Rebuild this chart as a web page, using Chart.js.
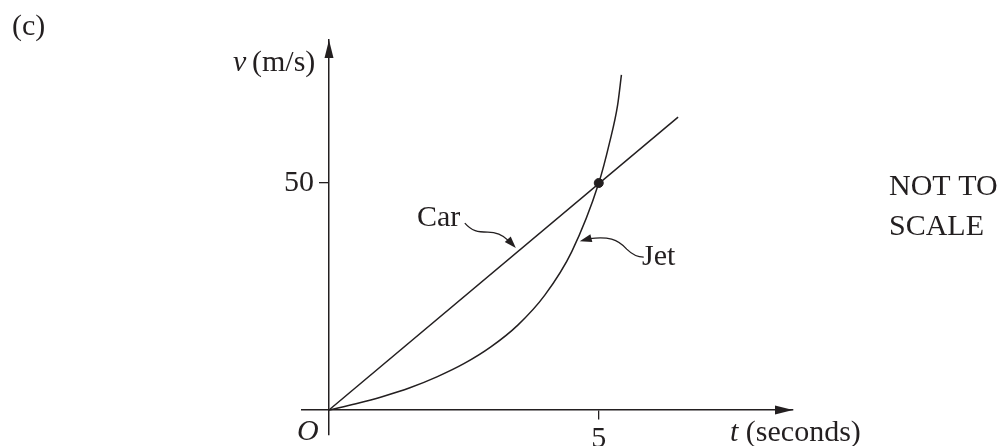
<!DOCTYPE html>
<html>
<head>
<meta charset="utf-8">
<script src="https://cdn.jsdelivr.net/npm/chart.js@4"></script>
<style>
  html, body { margin: 0; padding: 0; background: #fff; }
  #chart { display: block; }
</style>
</head>
<body>
<canvas id="chart" width="1003" height="446"></canvas>
<script>
// values (t in seconds, v in m/s)
const carT = [0, 6.47];
const carV = [0, 64.5];
const jetT = [0, 0.5, 1, 1.5, 2, 2.5, 3, 3.5, 4, 4.5, 5, 5.2, 5.35, 5.42];
const jetV = [0, 1.4, 3.0, 4.9, 7.3, 10.2, 13.9, 18.7, 25.3, 34.9, 50, 58.9, 67.2, 73.8];
const meetT = [5];
const meetV = [50];
const xTicks = [5];
const yTicks = [50];

const ink = '#231f20';
const serif = '"Liberation Serif", "DejaVu Serif", serif';

const toPoints = (xs, ys) => xs.map((x, i) => ({ x: x, y: ys[i] }));

function arrowHead(ctx, tx, ty, dx, dy, len, half) {
  const n = Math.hypot(dx, dy);
  const ux = dx / n, uy = dy / n;
  const bx = tx - ux * len, by = ty - uy * len;
  ctx.beginPath();
  ctx.moveTo(tx, ty);
  ctx.lineTo(bx - uy * half, by + ux * half);
  ctx.lineTo(bx + uy * half, by - ux * half);
  ctx.closePath();
  ctx.fill();
}

// keep the positioned axes from eating into the plot box
const noPad = (s) => { s.paddingLeft = 0; s.paddingRight = 0; s.paddingTop = 0; s.paddingBottom = 0; };

// axis arrows, leaders and the loose labels
const extras = {
  id: 'extras',
  afterDraw(chart) {
    const ctx = chart.ctx;
    const xs = chart.scales.x, ys = chart.scales.y;
    const ox = xs.getPixelForValue(0), oy = ys.getPixelForValue(0);
    const area = chart.chartArea;
    ctx.save();
    ctx.fillStyle = ink;
    ctx.strokeStyle = ink;
    ctx.lineWidth = 1.3;

    arrowHead(ctx, area.right, oy, 1, 0, 18, 4.5);
    arrowHead(ctx, ox, area.top, 0, -1, 18, 4.5);

    // Car leader
    let tx = xs.getPixelForValue(3.5) - 2, ty = ys.getPixelForValue(35) - 3;
    ctx.beginPath();
    ctx.moveTo(tx - 51, ty - 25);
    ctx.bezierCurveTo(tx - 44, ty - 17, tx - 38, ty - 16, tx - 28, ty - 16);
    ctx.bezierCurveTo(tx - 20, ty - 16, tx - 14, ty - 14, tx - 8, ty - 8);
    ctx.stroke();
    arrowHead(ctx, tx, ty, 1, 1.1, 12, 4);

    // Jet leader
    tx = xs.getPixelForValue(4.61) + 2; ty = ys.getPixelForValue(37.2);
    ctx.beginPath();
    ctx.moveTo(tx + 10, ty - 2.5);
    ctx.bezierCurveTo(tx + 28, ty - 5, tx + 38, ty - 2, tx + 47, ty + 8);
    ctx.bezierCurveTo(tx + 54, ty + 15, tx + 59, ty + 16, tx + 64, ty + 16);
    ctx.stroke();
    arrowHead(ctx, tx, ty, -1, 0.25, 12, 4);

    ctx.textBaseline = 'alphabetic';
    ctx.textAlign = 'left';
    ctx.font = '30px ' + serif;
    ctx.fillText('(c)', 12, 35);
    ctx.fillText('Car', 417, 226);
    ctx.fillText('Jet', 642, 265);
    ctx.fillText('NOT TO', 889, 195);
    ctx.fillText('SCALE', 889, 235);

    // v (m/s)
    ctx.font = 'italic 30px ' + serif;
    ctx.fillText('v', 233, 71);
    ctx.font = '30px ' + serif;
    ctx.fillText('(m/s)', 252, 71);

    // t (seconds)
    ctx.font = 'italic 30px ' + serif;
    ctx.fillText('t', 730, 441);
    let w = ctx.measureText('t ').width;
    ctx.font = '30px ' + serif;
    ctx.fillText('(seconds)', 730 + w, 441);

    // origin
    ctx.font = 'italic 30px ' + serif;
    ctx.fillText('O', 297, 440);
    ctx.restore();
  }
};

new Chart(document.getElementById('chart'), {
  type: 'line',
  data: {
    datasets: [
      {
        label: 'Car',
        data: toPoints(carT, carV),
        borderColor: ink,
        borderWidth: 1.5,
        pointRadius: 0,
        tension: 0
      },
      {
        label: 'Jet',
        data: toPoints(jetT, jetV),
        borderColor: ink,
        borderWidth: 1.5,
        pointRadius: 0,
        cubicInterpolationMode: 'monotone'
      },
      {
        label: 'meet',
        data: toPoints(meetT, meetV),
        showLine: false,
        pointRadius: 4.5,
        pointBackgroundColor: ink,
        pointBorderColor: ink
      }
    ]
  },
  options: {
    responsive: false,
    animation: false,
    devicePixelRatio: 1,
    layout: { padding: { left: 302, right: 210, top: 40, bottom: 11 } },
    plugins: { legend: { display: false }, tooltip: { enabled: false } },
    scales: {
      x: {
        type: 'linear',
        min: -0.5,
        max: 8.6,
        position: { y: 0 },
        afterBuildTicks: (s) => { s.ticks = xTicks.map(v => ({ value: v })); },
        afterFit: noPad,
        grid: { drawOnChartArea: false, drawTicks: true, tickLength: 9, color: ink, lineWidth: 1.3 },
        border: { display: true, color: ink, width: 1.5 },
        ticks: { color: ink, font: { family: serif, size: 30 }, padding: 2, maxRotation: 0 }
      },
      y: {
        type: 'linear',
        min: -5.5,
        max: 81.5,
        position: { x: 0 },
        afterBuildTicks: (s) => { s.ticks = yTicks.map(v => ({ value: v })); },
        afterFit: noPad,
        grid: { drawOnChartArea: false, drawTicks: true, tickLength: 9, color: ink, lineWidth: 1.3 },
        border: { display: true, color: ink, width: 1.5 },
        // a positioned axis ignores ticks.padding, so trailing spaces keep the label off the tick
        ticks: { color: ink, font: { family: serif, size: 30 }, callback: (v) => v + '  ' }
      }
    }
  },
  plugins: [extras]
});
</script>
</body>
</html>
